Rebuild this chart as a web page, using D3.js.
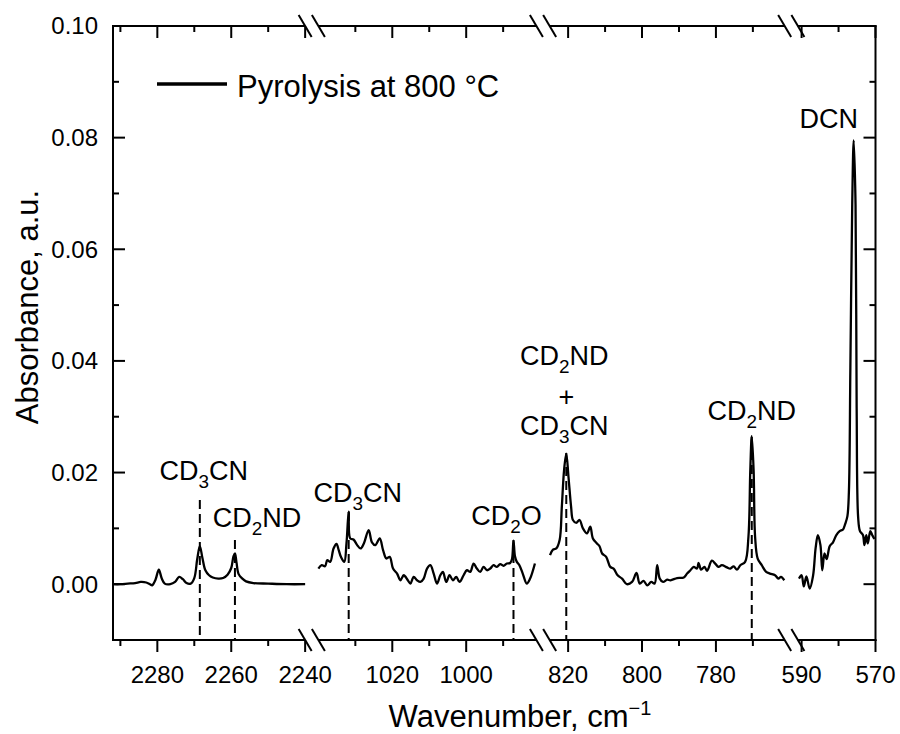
<!DOCTYPE html>
<html><head><meta charset="utf-8">
<script src="https://cdn.jsdelivr.net/npm/d3@7"></script>
<style>
body{margin:0;background:#fff}
svg{display:block}
text{font-family:"Liberation Sans",Arial,Helvetica,sans-serif;fill:#000}
</style>
</head><body>
<svg id="chart" width="900" height="734"></svg>
<script>
// ---------------- DATA ----------------
const segmentDomains = [[2292, 2240], [1040, 981], [825, 761.4], [591, 570]];
const yDomain = [-0.01, 0.10];
const yMajorTicks = [0.00, 0.02, 0.04, 0.06, 0.08, 0.10];
const yMinorTicks = [0.01, 0.03, 0.05, 0.07, 0.09];
const xMajorTicks = [2280, 2260, 2240, 1020, 1000, 820, 800, 780, 590, 570];
const xMinorTicks = [2290, 2270, 2250, 1030, 1010, 990, 810, 790, 770, 580];

const seg1 = [
 [2292,0.0000],[2290,0.0000],[2288,0.0001],[2286,0.0002],[2284.5,0.0004],[2283,0.0003],[2282,0.0000],
 [2281.4,-0.0002],[2280.5,0.0008],[2279.6,0.0026],[2278.8,0.0010],[2278,0.0001],[2276.5,0.0000],
 [2275.2,0.0004],[2274.1,0.0013],[2273.1,0.0009],[2272.1,0.0002],[2271,0.0001],[2270,0.0011],
 [2269.2,0.0045],[2268.5,0.0068],[2267.8,0.0047],[2267,0.0025],[2266,0.0016],[2265,0.0012],
 [2263.5,0.0010],[2262.2,0.0011],[2261,0.0017],[2260,0.0029],[2259.4,0.0050],[2259,0.0055],
 [2258.6,0.0040],[2258,0.0018],[2257,0.0010],[2256,0.0005],[2254,0.0002],[2250,0.0001],
 [2245,0.0000],[2240,0.0000]
];
const seg2 = [
 [1040,0.0028],[1039.1,0.0034],[1038.2,0.0032],[1037.6,0.0043],[1036.8,0.0040],[1035.9,0.0064],
 [1035.1,0.0072],[1034.5,0.0061],[1033.9,0.0049],[1033,0.0040],[1032.4,0.0073],[1031.8,0.0130],
 [1031.4,0.0082],[1030.5,0.0080],[1029.5,0.0070],[1028.6,0.0064],[1027.7,0.0073],[1026.4,0.0097],
 [1025.5,0.0075],[1024.6,0.0070],[1023.4,0.0082],[1022.5,0.0061],[1021.6,0.0046],[1020.7,0.0049],
 [1019.8,0.0028],[1018.7,0.0019],[1017.8,0.0007],[1016.9,0.0016],[1015.8,0.0007],[1015.1,0.0001],
 [1014.2,0.0013],[1013.3,0.0007],[1012.4,0.0004],[1011.5,0.0010],[1010.6,0.0028],[1009.7,0.0034],
 [1008.8,0.0019],[1007.9,0.0001],[1007,0.0016],[1006.3,0.0022],[1005.4,0.0004],[1004.5,0.0016],
 [1003.6,0.0007],[1002.7,0.0013],[1001.8,0.0004],[1000.7,0.0016],[999.8,0.0025],[998.9,0.0022],
 [998,0.0037],[997.1,0.0028],[996.2,0.0022],[995.3,0.0031],[994.4,0.0025],[993.5,0.0028],
 [992.6,0.0034],[991.7,0.0031],[990.8,0.0036],[989.9,0.0033],[989,0.0037],[988.1,0.0038],
 [987.6,0.0045],[987.2,0.0078],[986.8,0.0050],[986.3,0.0040],[985.6,0.0034],[984.7,0.0019],
 [983.6,0.0001],[982.7,0.0010],[981.4,0.0037]
];
const seg3 = [
 [824.9,0.0052],[824.1,0.0062],[823.2,0.0064],[822.3,0.0079],[821.7,0.0139],[821.1,0.0204],
 [820.5,0.0234],[819.9,0.0192],[819.2,0.0139],[818.7,0.0115],[817.8,0.0110],[816.9,0.0115],
 [816,0.0100],[814.9,0.0091],[814,0.0103],[813.3,0.0082],[812.2,0.0073],[811.5,0.0068],
 [810.8,0.0055],[809.7,0.0049],[808.6,0.0031],[807.7,0.0028],[806.6,0.0016],[805.4,0.0010],
 [804.1,0.0000],[802.7,0.0004],[801.5,0.0020],[800.6,0.0001],[799.6,0.0006],[798.6,-0.0002],
 [797.5,0.0004],[796.6,0.0001],[795.9,0.0034],[795.2,0.0010],[794.3,0.0004],[793.2,0.0008],
 [792.3,0.0007],[790.5,0.0011],[788.7,0.0012],[787.8,0.0019],[786.9,0.0025],[786,0.0031],
 [785.1,0.0028],[784.7,0.0038],[784,0.0026],[783.1,0.0031],[782.4,0.0024],[781.1,0.0042],
 [780.2,0.0037],[779.3,0.0031],[778.4,0.0034],[777,0.0030],[776.1,0.0028],[775.2,0.0032],
 [774.3,0.0026],[773.4,0.0034],[772.1,0.0040],[771.2,0.0085],[770.7,0.0204],[770.3,0.0265],
 [769.8,0.0204],[769.4,0.0085],[768.7,0.0046],[767.6,0.0034],[766.4,0.0022],[765.4,0.0019],
 [764,0.0016],[763.1,0.0010],[762.4,0.0013],[761.5,0.0007]
];
const seg4 = [
 [590.7,0.0010],[590,0.0016],[589.4,-0.0004],[588.7,0.0014],[587.8,-0.0008],[586.9,0.0015],
 [586.2,0.0065],[585.6,0.0088],[584.9,0.0070],[584.4,0.0025],[583.8,0.0055],[583.2,0.0045],
 [582.4,0.0068],[581.5,0.0075],[580.6,0.0088],[579.7,0.0095],[578.8,0.0098],[578.2,0.0108],
 [577.6,0.0122],[577.2,0.0165],[576.8,0.0388],[576.3,0.0680],[575.9,0.0795],[575.4,0.0680],
 [575.1,0.0315],[574.7,0.0120],[574.2,0.0095],[573.4,0.0088],[573,0.0070],[572.5,0.0088],
 [572.1,0.0073],[571.4,0.0095],[570.9,0.0088],[570.3,0.0081]
];
const segments = [seg1, seg2, seg3, seg4];

// annotations: label parts (text, sub), wavenumber of dashed line
const annotations = [
 {parts:[["CD",""],["3","sub"],["CN",""]], wn:2268.5, dashed:true},
 {parts:[["CD",""],["2","sub"],["ND",""]], wn:2259, dashed:true},
 {parts:[["CD",""],["3","sub"],["CN",""]], wn:1031.8, dashed:true},
 {parts:[["CD",""],["2","sub"],["O",""]], wn:987.2, dashed:true},
 {parts:[["CD",""],["2","sub"],["ND",""]], wn:820.5, dashed:true},
 {parts:[["+",""]], wn:820.5, dashed:false},
 {parts:[["CD",""],["3","sub"],["CN",""]], wn:820.5, dashed:false},
 {parts:[["CD",""],["2","sub"],["ND",""]], wn:770.3, dashed:true},
 {parts:[["DCN",""]], wn:575.9, dashed:false}
];
const legendLabel = "Pyrolysis at 800 °C";

// ---------------- LAYOUT ----------------
const L = 113, R = 875.5, T = 26, B = 640, GAP = 13.25;
const annLayout = [
 {dx:4,  base:480, top:500},
 {dx:22, base:527, top:540},
 {dx:9,  base:502, top:512},
 {dx:-7, base:525, top:540},
 {dx:-2, base:365, top:453},
 {dx:0,  base:406},
 {dx:-2, base:435},
 {dx:0,  base:420, top:437},
 {dx:-25,base:128}
];

const svg = d3.select("#chart");
const units = segmentDomains.map(d => Math.abs(d[0]-d[1]));
const totalUnits = d3.sum(units);
const k = (R - L - GAP*(segmentDomains.length-1)) / totalUnits;
let cur = L;
const xScales = segmentDomains.map((d,i) => {
  const r0 = cur, r1 = cur + units[i]*k;
  cur = r1 + GAP;
  return d3.scaleLinear().domain(d).range([r0, r1]);
});
function segOf(v){
  return xScales.findIndex(s => {
    const d = s.domain();
    return v <= Math.max(d[0],d[1]) + 1e-6 && v >= Math.min(d[0],d[1]) - 1e-6;
  });
}
function X(v){ const i = segOf(v); return xScales[i](v); }
const y = d3.scaleLinear().domain(yDomain).range([B, T]);

// ---------------- DATA LINES ----------------
segments.forEach((seg, i) => {
  const li = d3.line().x(d => xScales[i](d[0])).y(d => y(d[1])).curve(d3.curveCatmullRom.alpha(0.5));
  svg.append("path").datum(seg).attr("d", li)
    .attr("fill","none").attr("stroke","#000").attr("stroke-width",2.3).attr("stroke-linejoin","round");
});

// ---------------- DASHED LINES + LABELS ----------------
function addRich(g, parts, x, base, size){
  const t = g.append("text").attr("x", x).attr("y", base).attr("text-anchor","middle")
    .style("font-size", size+"px");
  parts.forEach((p, j) => {
    const ts = t.append("tspan").text(p[0]);
    if (p[1] === "sub") {
      ts.style("font-size", (size*0.7)+"px").attr("dy", size*0.3);
    } else if (j > 0 && parts[j-1][1] === "sub") {
      ts.attr("dy", -size*0.3);
    }
  });
  return t;
}
const annG = svg.append("g");
annotations.forEach((a, i) => {
  const lay = annLayout[i];
  const xx = X(a.wn);
  if (a.dashed) {
    annG.append("line").attr("x1", xx).attr("x2", xx).attr("y1", lay.top).attr("y2", B)
      .attr("stroke","#000").attr("stroke-width",2).attr("stroke-dasharray","9,5");
  }
  addRich(annG, a.parts, xx + lay.dx, lay.base, 27);
});

// ---------------- AXES / FRAME ----------------
const axG = svg.append("g").attr("stroke","#000").attr("stroke-width",2).attr("fill","none");
axG.append("line").attr("x1",L).attr("x2",L).attr("y1",T-1).attr("y2",B+1);
axG.append("line").attr("x1",R).attr("x2",R).attr("y1",T-1).attr("y2",B+1);
xScales.forEach((s,i) => {
  const r = s.range();
  const x0 = i===0 ? L-1 : r[0], x1 = i===xScales.length-1 ? R+1 : r[1];
  axG.append("line").attr("x1",x0).attr("x2",x1).attr("y1",B).attr("y2",B);
  axG.append("line").attr("x1",x0).attr("x2",x1).attr("y1",T).attr("y2",T);
});
// break marks
xScales.forEach((s,i) => {
  const r = s.range();
  const pts = [];
  if (i>0) pts.push(r[0]);
  if (i<xScales.length-1) pts.push(r[1]);
  pts.forEach(px => {
    [B, T].forEach(py => {
      axG.append("line").attr("x1",px-6.5).attr("x2",px+6.5).attr("y1",py-11).attr("y2",py+11);
    });
  });
});
// ticks
const tickG = svg.append("g").attr("stroke","#000").attr("stroke-width",2);
xMajorTicks.forEach(v => {
  const px = X(v);
  tickG.append("line").attr("x1",px).attr("x2",px).attr("y1",B).attr("y2",B+12);
  tickG.append("line").attr("x1",px).attr("x2",px).attr("y1",T).attr("y2",T+12);
});
xMinorTicks.forEach(v => {
  const px = X(v);
  tickG.append("line").attr("x1",px).attr("x2",px).attr("y1",B).attr("y2",B+6);
  tickG.append("line").attr("x1",px).attr("x2",px).attr("y1",T).attr("y2",T+6);
});
yMajorTicks.forEach(v => {
  tickG.append("line").attr("x1",L).attr("x2",L+12).attr("y1",y(v)).attr("y2",y(v));
  tickG.append("line").attr("x1",R).attr("x2",R-12).attr("y1",y(v)).attr("y2",y(v));
});
yMinorTicks.forEach(v => {
  tickG.append("line").attr("x1",L).attr("x2",L+6).attr("y1",y(v)).attr("y2",y(v));
  tickG.append("line").attr("x1",R).attr("x2",R-6).attr("y1",y(v)).attr("y2",y(v));
});
// tick labels
const lblG = svg.append("g").style("font-size","24px");
xMajorTicks.forEach(v => {
  lblG.append("text").attr("x", X(v)).attr("y", 683).attr("text-anchor","middle").text(String(v));
});
const fmt = d3.format(".2f");
yMajorTicks.forEach(v => {
  lblG.append("text").attr("x", 98).attr("y", y(v)).attr("dy","0.35em").attr("text-anchor","end").text(fmt(v));
});

// axis titles
const xt = svg.append("text").attr("x", 520).attr("y", 727).attr("text-anchor","middle").style("font-size","31px");
xt.append("tspan").text("Wavenumber, cm");
xt.append("tspan").text("\u22121").style("font-size","20px").attr("dy",-12);
svg.append("text").attr("transform","translate(38,307) rotate(-90)").attr("text-anchor","middle")
  .style("font-size","31px").text("Absorbance, a.u.");

// legend
svg.append("line").attr("x1",157).attr("x2",227).attr("y1",84).attr("y2",84)
  .attr("stroke","#000").attr("stroke-width",3.5);
svg.append("text").attr("x",237).attr("y",96.5).style("font-size","31px").text(legendLabel);
</script>
</body></html>
